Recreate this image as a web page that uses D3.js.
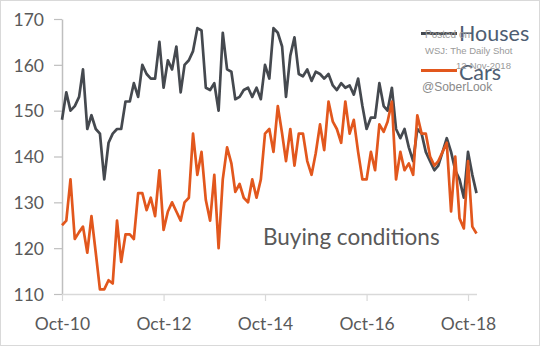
<!DOCTYPE html>
<html>
<head>
<meta charset="utf-8">
<script src="https://cdn.jsdelivr.net/npm/d3@7"></script>
<style>
  html, body { margin: 0; padding: 0; background: #fff; }
  svg { display: block; }
</style>
</head>
<body>
<svg id="chart" width="540" height="346"></svg>
<script>
// ---- data ----
const seriesNames = ["Houses", "Cars"];
const startMonth = "Oct-10";
const endMonth = "Dec-18";
const yTicks = [110, 120, 130, 140, 150, 160, 170];
const xTickLabels = ["Oct-10", "Oct-12", "Oct-14", "Oct-16", "Oct-18"];

const houses = [
  148, 154, 150, 151, 153, 159, 146, 149, 146, 145,
  135, 143, 145, 146, 146, 152, 152, 156, 153, 160,
  158, 157, 157, 165, 155, 161, 159, 164, 154, 160,
  161, 163, 168, 167.5, 155, 154.5, 156, 150, 167, 159,
  158.5, 152.5, 153, 154.5, 155, 153, 155, 152.5, 160, 157,
  168, 167, 164, 153, 162, 166, 158, 157.5, 159, 156.5,
  158.5, 158, 157, 158, 155.5, 154.5, 156, 155, 155.5, 153.5,
  157, 151, 146, 148.5, 148.5, 156, 151, 150, 155, 146,
  144, 146, 142, 139, 146, 145, 141, 139, 137, 138,
  141, 144, 141, 137, 135, 131, 141, 136, 132
];
const cars = [
  125, 126, 135, 122, 123.5, 124.7, 119, 127, 119, 111,
  111, 113, 112.3, 126, 117, 123, 123, 122, 132, 132,
  128.3, 131, 127, 137, 124, 128, 130, 128, 126, 130,
  131, 145, 136, 141, 130.5, 126, 136, 120, 135, 142,
  138.5, 132.3, 134, 131, 130, 135, 131, 135, 145, 146,
  141, 151, 145, 139, 146, 138, 145, 145, 139, 136,
  140.7, 147, 141.4, 152, 147.6, 146, 143, 152, 145, 148,
  141, 135, 135, 141, 137, 147, 145.4, 147.6, 152, 135,
  141, 137, 138.5, 136, 149, 145, 145, 140, 138, 139,
  141, 143, 128, 140, 126.5, 124.3, 139, 124.7, 123.2
];
const annotation = "Buying conditions";
const watermark = ["Posted on", "WSJ: The Daily Shot", "12-Nov-2018", "@SoberLook"];

// ---- setup ----
const parse = d3.timeParse("%b-%y");
const months = d3.timeMonth.range(parse(startMonth), d3.timeMonth.offset(parse(endMonth), 1));
const svg = d3.select("#chart");
const font = "Lato, 'Open Sans', sans-serif";
const colors = { Houses: "#45494f", Cars: "#e2571d" };

svg.append("rect").attr("x", 0.5).attr("y", 0.5).attr("width", 539).attr("height", 345)
  .attr("fill", "#fff").attr("stroke", "#d9d9d9");

const x = d3.scaleTime().domain([months[0], months[months.length - 1]]).range([62, 476.5]);
const y = d3.scaleLinear().domain([110, 170]).range([294, 19]);

// axes
const yAxis = svg.append("g").attr("transform", "translate(62,0)")
  .call(d3.axisLeft(y).tickValues(yTicks).tickSize(8).tickSizeOuter(0).tickFormat(d3.format("d")));
yAxis.select(".domain").attr("stroke", "#bfbfbf").attr("stroke-width", 1.5);
yAxis.selectAll(".tick line").attr("stroke", "#bfbfbf").attr("stroke-width", 1.2);
yAxis.selectAll(".tick text").attr("x", -18).attr("dy", "0.36em")
  .attr("fill", "#595959").style("font-family", font).style("font-size", "17.5px");

const xAxis = svg.append("g").attr("transform", "translate(0,294)")
  .call(d3.axisBottom(x).tickValues(xTickLabels.map(parse)).tickSize(7).tickSizeOuter(0)
    .tickFormat(d3.timeFormat("%b-%y")));
xAxis.select(".domain").attr("stroke", "#d9d9d9").attr("stroke-width", 1.5);
xAxis.selectAll(".tick line").attr("stroke", "#d9d9d9").attr("stroke-width", 1.2);
xAxis.selectAll(".tick text").attr("y", 36).attr("dy", 0)
  .attr("fill", "#595959").style("font-family", font).style("font-size", "17.5px");

// lines
const line = d3.line().x((d, i) => x(months[i])).y(d => y(d));
const dataBySeries = { Houses: houses, Cars: cars };
seriesNames.forEach(name => {
  svg.append("path").datum(dataBySeries[name])
    .attr("fill", "none").attr("stroke", colors[name]).attr("stroke-width", 2.7)
    .attr("stroke-linejoin", "round").attr("d", line);
});

// annotation
svg.append("text").attr("x", 263).attr("y", 245).text(annotation)
  .attr("fill", "#595959").style("font-family", font).style("font-size", "22.5px");

// legend
const legendRows = [{ name: "Houses", ly: 33.5, ty: 41 }, { name: "Cars", ly: 70.5, ty: 80 }];
legendRows.forEach(r => {
  svg.append("line").attr("x1", 421).attr("x2", 457).attr("y1", r.ly).attr("y2", r.ly)
    .attr("stroke", colors[r.name]).attr("stroke-width", 2.8);
  svg.append("text").attr("x", 459).attr("y", r.ty).text(r.name)
    .attr("fill", "#4e5d72").style("font-family", font).style("font-size", "21.5px");
});

// watermark
const wm = svg.append("g").attr("fill", "#9a9a9a").style("font-family", "'Liberation Sans', Arial, sans-serif");
wm.append("text").attr("x", 425).attr("y", 38).text(watermark[0]).style("font-size", "10px");
wm.append("text").attr("x", 425).attr("y", 54).text(watermark[1]).style("font-size", "9.5px");
wm.append("text").attr("x", 456).attr("y", 69).text(watermark[2]).style("font-size", "9.5px");
wm.append("text").attr("x", 422).attr("y", 91).text(watermark[3]).style("font-size", "12px").attr("fill", "#8a8a8a");
</script>
</body>
</html>
